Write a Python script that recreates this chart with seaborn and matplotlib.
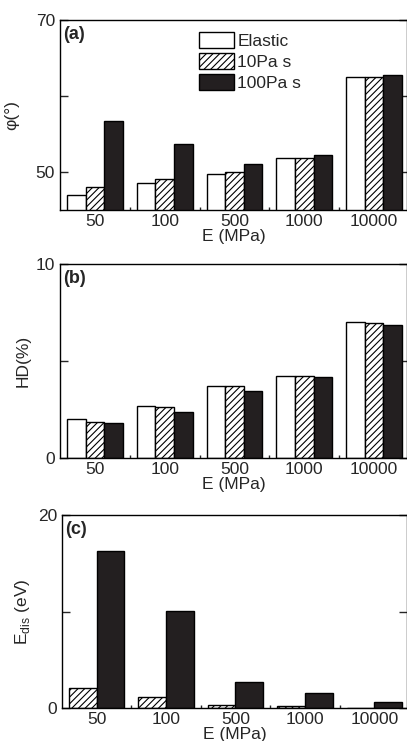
import pandas as pd
import matplotlib.pyplot as plt
import seaborn as sns
from matplotlib.patches import Patch

### Moduli and the three material cases
moduli = ["50", "100", "500", "1000", "10000"]
series = ["Elastic", "10Pa s", "100Pa s"]

# (a) contact angle phi (deg)
phi_elastic = [47.0, 48.6, 49.7, 51.8, 62.5]
phi_10 = [48.0, 49.1, 50.0, 51.8, 62.5]
phi_100 = [56.7, 53.7, 51.1, 52.3, 62.7]

# (b) HD (%)
hd_elastic = [2.01, 2.70, 3.71, 4.26, 7.03]
hd_10 = [1.89, 2.63, 3.71, 4.26, 6.96]
hd_100 = [1.80, 2.37, 3.48, 4.17, 6.86]

# (c) dissipated energy (eV), viscous cases only
edis_10 = [2.07, 1.20, 0.30, 0.20, 0.08]
edis_100 = [16.27, 10.1, 2.72, 1.55, 0.68]


def long_table(cols, names):
    rows = []
    for name, vals in zip(names, cols):
        for m, v in zip(moduli, vals):
            rows.append({"E": m, "series": name, "val": v})
    return pd.DataFrame(rows)


df_a = long_table([phi_elastic, phi_10, phi_100], series)
df_b = long_table([hd_elastic, hd_10, hd_100], series)
df_c = long_table([edis_10, edis_100], series[1:])

sns.set_theme(style="ticks")
plt.rcParams["font.family"] = ["Liberation Sans", "DejaVu Sans"]
plt.rcParams["hatch.linewidth"] = 0.8
plt.rcParams["font.size"] = 12

colours = {"Elastic": "white", "10Pa s": "white", "100Pa s": "#231f20"}

fig = plt.figure(figsize=(4.07, 7.41), dpi=100)
ax_a = fig.add_axes([0.1474, 0.7166, 0.8526, 0.2564])
ax_b = fig.add_axes([0.1474, 0.3815, 0.8526, 0.2618])
ax_c = fig.add_axes([0.1520, 0.0441, 0.8480, 0.2609])


def draw(ax, df, names, ylim, yticks, yticklabels, ylabel, tag, ypad):
    sns.barplot(data=df, x="E", y="val", hue="series", order=moduli,
                hue_order=names, palette=[colours[n] for n in names],
                edgecolor="black", linewidth=1.0, saturation=1,
                legend=False, ax=ax)
    # hatch the 10Pa s bars
    for cont, name in zip(ax.containers, names):
        if name == "10Pa s":
            for bar in cont:
                bar.set_hatch("/////")
    ax.set_xlim(-0.5, 4.47)
    ax.set_ylim(*ylim)
    ax.set_yticks(yticks)
    ax.set_yticklabels(yticklabels)
    ax.set_xticks(range(len(moduli)))
    ax.set_xticklabels(moduli)
    ax.set_xticks([0.5, 1.5, 2.5, 3.5], minor=True)
    ax.tick_params(axis="x", which="major", length=0, pad=3, labelsize=12.5)
    ax.tick_params(axis="x", which="minor", length=2, direction="in", width=1)
    ax.tick_params(axis="y", which="major", length=6, direction="in",
                   left=True, right=True, labelsize=12.5, width=1)
    for sp in ax.spines.values():
        sp.set_visible(True)
        sp.set_linewidth(1.0)
        sp.set_color("black")
    ax.set_xlabel("E (MPa)", fontsize=12.5, labelpad=0)
    ax.set_ylabel(ylabel, fontsize=12.5, labelpad=ypad)
    ax.text(0.01, 0.97, tag, transform=ax.transAxes, ha="left", va="top",
            fontsize=13, fontweight="bold")


draw(ax_a, df_a, series, (45, 70), [50, 60, 70], ["50", "", "70"], "φ(°)", "(a)", 12)
draw(ax_b, df_b, series, (0, 10), [0, 5, 10], ["0", "", "10"], "HD(%)", "(b)", 4)
draw(ax_c, df_c, series[1:], (0, 20), [0, 10, 20], ["0", "", "20"],
     r"E$_\mathregular{dis}$ (eV)", "(c)", 4)

handles = [Patch(facecolor="white", edgecolor="black", label="Elastic"),
           Patch(facecolor="white", edgecolor="black", hatch="/////", label="10Pa s"),
           Patch(facecolor="#231f20", edgecolor="black", label="100Pa s")]
ax_a.legend(handles=handles, loc="upper left", bbox_to_anchor=(0.366, 1.0),
            frameon=False, fontsize=12.5, handlelength=2.0, handleheight=1.0,
            handletextpad=0.2, labelspacing=0.25, borderaxespad=0.3)

plt.savefig("out.png", dpi=100)
